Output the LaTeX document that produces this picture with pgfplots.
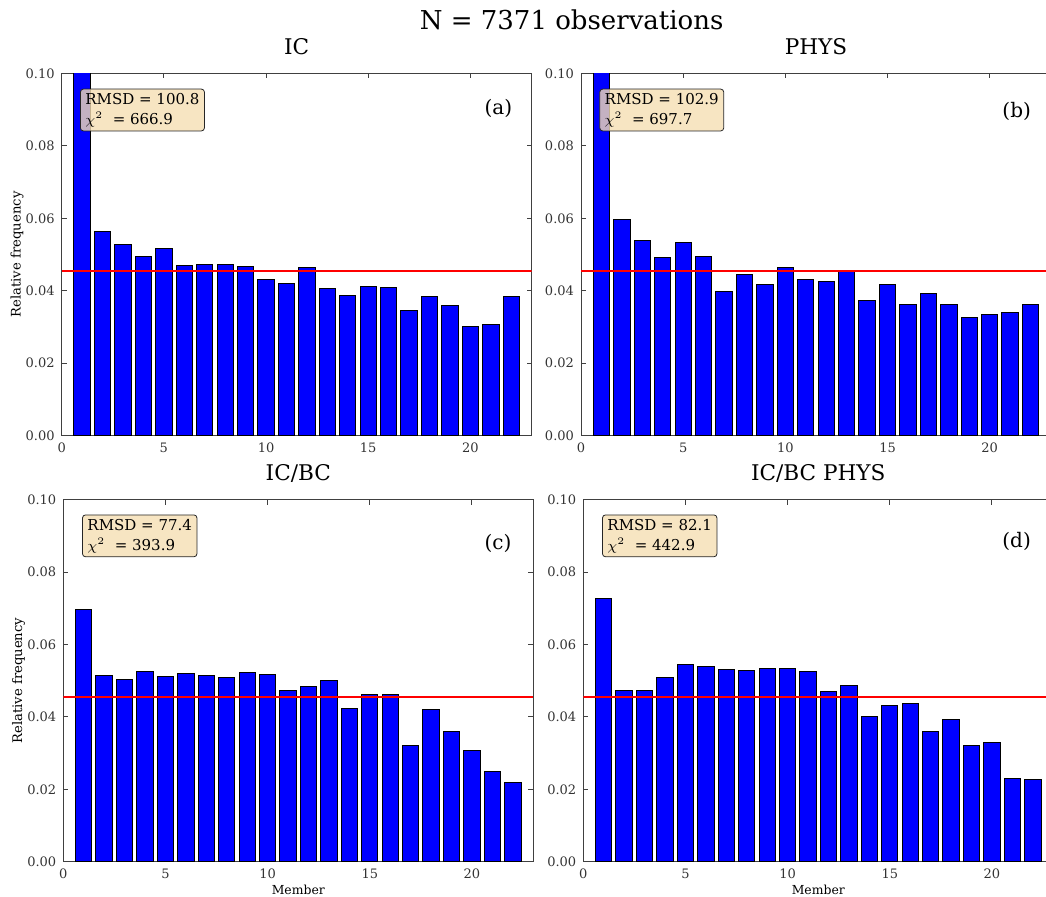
\documentclass[border=0pt]{standalone}
\usepackage{fontspec}
\setmainfont{DejaVu Serif}
\usepackage{pgfplots}
\pgfplotsset{compat=1.18}
\definecolor{wheat}{HTML}{F5DEB3}
\pgfplotsset{
  panel/.style={
    scale only axis, width=235pt, height=181pt,
    xmin=0, xmax=23, ymin=0, ymax=0.1,
    xtick={0,5,10,15,20}, ytick={0,0.02,0.04,0.06,0.08,0.1},
    scaled y ticks=false,
    yticklabel style={/pgf/number format/.cd, fixed, fixed zerofill, precision=2},
    /pgf/number format/assume math mode=true,
    tick label style={font=\fontsize{6.5}{7}\selectfont, text=black!80},
    major tick length=2.5pt,
    tick align=inside,
    axis line style={line width=0.5pt, draw=black!75},
    tick style={line width=0.5pt, draw=black!75},
    title style={font=\fontsize{10.8}{12}\selectfont, at={(0.5,1)}, anchor=base, yshift=3.5pt},
    every axis y label/.style={at={(axis description cs:-0.095,0.5)}, rotate=90, anchor=center, font=\fontsize{6.6}{8}\selectfont},
    every axis x label/.style={at={(axis description cs:0.5,0)}, anchor=base, yshift=-16.5pt, font=\fontsize{6.2}{7}\selectfont},
    clip=true,
  },
  bars/.style={ybar, bar width=0.8, fill=blue, draw=black, line width=0.5pt},
  unif/.style={red, line width=1pt},
}
\tikzset{
  statbox/.style={anchor=north west, draw=black!85, fill=wheat, fill opacity=0.8, text opacity=1, rounded corners=1.5pt, inner xsep=2.5pt, inner ysep=2pt, align=left, font=\fontsize{7.5}{10}\selectfont},
  plab/.style={font=\fontsize{10}{12}\selectfont},
}
\begin{document}
\begin{tikzpicture}
% (a) IC
\begin{axis}[panel, at={(30.85pt,230.75pt)}, anchor=south west, title={IC}, ylabel={Relative frequency}]
\addplot[bars] coordinates {
(1,0.101) (2,0.0564) (3,0.0527) (4,0.0494) (5,0.0517) (6,0.0469) (7,0.0471) (8,0.0471)
(9,0.0466) (10,0.0432) (11,0.0420) (12,0.0465) (13,0.0407) (14,0.0388) (15,0.0411)
(16,0.0409) (17,0.0345) (18,0.0385) (19,0.0358) (20,0.0300) (21,0.0306) (22,0.0385)};
\addplot[unif] coordinates {(0,0.04545) (23,0.04545)};
\node[statbox] at (rel axis cs:0.039,0.958) {RMSD = 100.8\\$\chi^2$\ \ = 666.9};
\node[plab] at (rel axis cs:0.929,0.902) {(a)};
\end{axis}
% (b) PHYS
\begin{axis}[panel, at={(290.5pt,230.75pt)}, anchor=south west, title={PHYS}]
\addplot[bars] coordinates {
(1,0.104) (2,0.0598) (3,0.0538) (4,0.0492) (5,0.0533) (6,0.0494) (7,0.0398) (8,0.0444)
(9,0.0416) (10,0.0465) (11,0.0432) (12,0.0425) (13,0.0452) (14,0.0374) (15,0.0417)
(16,0.0363) (17,0.0393) (18,0.0361) (19,0.0325) (20,0.0333) (21,0.0340) (22,0.0363)};
\addplot[unif] coordinates {(0,0.04545) (23,0.04545)};
\node[statbox] at (rel axis cs:0.039,0.958) {RMSD = 102.9\\$\chi^2$\ \ = 697.7};
\node[plab] at (rel axis cs:0.927,0.895) {(b)};
\end{axis}
% (c) IC/BC
\begin{axis}[panel, at={(31.65pt,17.65pt)}, anchor=south west, title={IC/BC}, ylabel={Relative frequency}, xlabel={Member}]
\addplot[bars] coordinates {
(1,0.0697) (2,0.0515) (3,0.0503) (4,0.0524) (5,0.0512) (6,0.0521) (7,0.0514) (8,0.0509)
(9,0.0523) (10,0.0518) (11,0.0472) (12,0.0483) (13,0.0500) (14,0.0423) (15,0.0462)
(16,0.0462) (17,0.0321) (18,0.0421) (19,0.0361) (20,0.0306) (21,0.0250) (22,0.0218)};
\addplot[unif] coordinates {(0,0.04545) (23,0.04545)};
\node[statbox] at (rel axis cs:0.040,0.959) {RMSD = 77.4\\$\chi^2$\ \ = 393.9};
\node[plab] at (rel axis cs:0.925,0.88) {(c)};
\end{axis}
% (d) IC/BC PHYS
\begin{axis}[panel, at={(291.65pt,17.65pt)}, anchor=south west, title={IC/BC PHYS}, xlabel={Member}]
\addplot[bars] coordinates {
(1,0.0726) (2,0.0472) (3,0.0472) (4,0.0509) (5,0.0544) (6,0.0539) (7,0.0530) (8,0.0527)
(9,0.0533) (10,0.0533) (11,0.0525) (12,0.0470) (13,0.0487) (14,0.0401) (15,0.0432)
(16,0.0438) (17,0.0359) (18,0.0394) (19,0.0320) (20,0.0329) (21,0.0229) (22,0.0228)};
\addplot[unif] coordinates {(0,0.04545) (23,0.04545)};
\node[statbox] at (rel axis cs:0.040,0.959) {RMSD = 82.1\\$\chi^2$\ \ = 442.9};
\node[plab] at (rel axis cs:0.922,0.885) {(d)};
\end{axis}
\node[font=\fontsize{13}{15}\selectfont, anchor=base] at (285.85pt,433.5pt) {N = 7371 observations};
\pgfresetboundingbox
\path[use as bounding box] (0pt,0pt) rectangle (523pt,448.5pt);
\end{tikzpicture}
\end{document}
